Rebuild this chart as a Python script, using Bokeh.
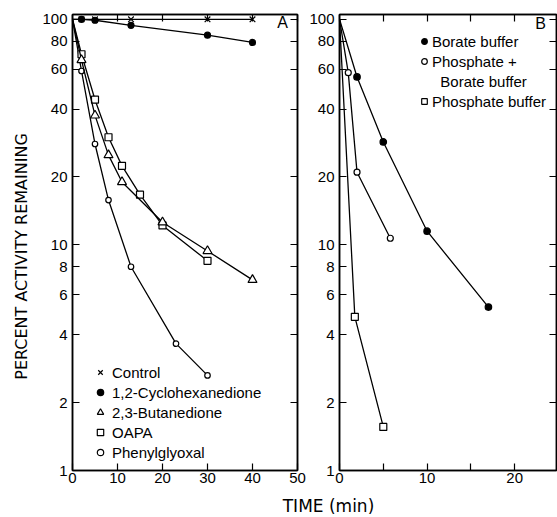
import math
from bokeh.plotting import figure
from bokeh.layouts import column, row
from bokeh.models import (FixedTicker, LogAxis, LinearAxis, NumeralTickFormatter,
                          Legend, LegendItem, Label)
from bokeh.embed import file_html
from bokeh.resources import INLINE

FONT = "Liberation Sans"

# ---------------- Panel A data (time in min, % activity remaining) -------------
ctrl_t = [0, 2, 5, 13, 30, 40]
ctrl_v = [100, 100, 100, 100, 100, 100]
chd_t = [0, 2, 5, 13, 30, 40]
chd_v = [100, 100, 99, 94, 85, 79]
btd_t = [0, 2, 5, 8, 11, 20, 30, 40]
btd_v = [100, 66, 37.5, 25, 19, 12.6, 9.4, 7.0]
oapa_t = [0, 2, 5, 8, 11, 15, 20, 30]
oapa_v = [100, 70, 44, 30, 22.4, 16.7, 12.2, 8.5]
pgo_t = [0, 2, 5, 8, 13, 23, 30]
pgo_v = [100, 59, 28, 15.8, 8.0, 3.65, 2.64]

# ---------------- Panel B data ------------------------------------------------
bor_t = [0, 2, 5, 10, 17]
bor_v = [100, 55.5, 28.6, 11.5, 5.3]
pb_t = [0, 1, 2, 5.8]
pb_v = [100, 58, 21, 10.7]
pho_t = [0, 1.75, 5]
pho_v = [100, 4.8, 1.56]

y_ticks = [1, 2, 4, 6, 8, 10, 20, 40, 60, 80, 100]
a_x_ticks = [0, 10, 20, 30, 40, 50]
b_x_ticks = [0, 10, 20]
b_x_minor = [5, 15]

LBL = "15px"
ROW_H = 490


def tick_style(ax, labels=True):
    ax.axis_line_color = "black"
    ax.axis_line_width = 1.5
    ax.major_tick_line_color = "black"
    ax.major_tick_line_width = 1.2
    ax.major_tick_in = 7
    ax.major_tick_out = 0
    ax.minor_tick_line_color = "black"
    ax.minor_tick_line_width = 1.2
    ax.minor_tick_in = 7
    ax.minor_tick_out = 0
    if labels:
        ax.major_label_text_font = FONT
        ax.major_label_text_font_size = LBL
        ax.major_label_text_color = "black"
    else:
        ax.major_label_text_color = None
        ax.major_label_text_font_size = "1px"
        ax.major_label_standoff = 0


def make_fig(width, xr, mb_left, mb_right, xticks, xminor):
    p = figure(width=width, height=ROW_H, x_range=xr, y_range=(1, 105),
               y_axis_type="log", output_backend="svg", toolbar_location=None,
               title=None, min_border_left=mb_left, min_border_right=mb_right,
               min_border_top=14, min_border_bottom=20)
    p.xgrid.visible = False
    p.ygrid.visible = False
    p.outline_line_color = "black"
    p.outline_line_width = 1.5
    p.background_fill_color = "white"
    p.border_fill_color = "white"

    xa = p.xaxis[0]
    xa.ticker = FixedTicker(ticks=xticks, minor_ticks=xminor)
    tick_style(xa)
    xa.major_label_standoff = 2

    ya = p.yaxis[0]
    ya.ticker = FixedTicker(ticks=y_ticks)
    ya.formatter = NumeralTickFormatter(format="0")
    tick_style(ya)
    ya.major_label_standoff = 5

    top = LinearAxis(ticker=FixedTicker(ticks=xticks, minor_ticks=xminor))
    tick_style(top, labels=False)
    p.add_layout(top, "above")
    right = LogAxis(ticker=FixedTicker(ticks=y_ticks))
    tick_style(right, labels=False)
    p.add_layout(right, "right")
    return p


def series(p, t, v, marker, size, fill):
    p.line(t, v, line_color="black", line_width=1.3)
    return p.scatter(t[1:], v[1:], marker=marker, size=size, line_color="black",
                     line_width=1.2, fill_color=fill)


def blank_fig(width, height):
    p = figure(width=width, height=height, x_range=(0, width), y_range=(0, height),
               output_backend="svg", toolbar_location=None, title=None,
               x_axis_location=None, y_axis_location=None,
               min_border_left=0, min_border_right=0, min_border_top=0,
               min_border_bottom=0)
    p.grid.visible = False
    p.outline_line_color = None
    p.background_fill_color = "white"
    p.border_fill_color = "white"
    return p


def make_legend(items, loc, gw):
    return Legend(items=items, location=loc, glyph_width=gw, glyph_height=18,
                  label_height=18, spacing=2, padding=0, margin=0,
                  label_standoff=4 if gw == 16 else 1,
                  label_text_font=FONT, label_text_font_size=LBL,
                  label_text_color="black",
                  background_fill_alpha=0, border_line_alpha=0)


# ---------------- y-axis title strip ----------------
pY = blank_fig(32, ROW_H)
pY.add_layout(Label(x=21, y=ROW_H - 260, text="PERCENT ACTIVITY REMAINING",
                    angle=math.pi / 2, text_align="center", text_baseline="middle",
                    text_font="DejaVu Sans", text_font_size="16px",
                    text_color="black"))

# ---------------- Panel A ----------------
pA = make_fig(274, (0, 50), 40, 9, a_x_ticks, [])
s_pgo = series(pA, pgo_t, pgo_v, "circle", 5.5, "white")
s_oapa = series(pA, oapa_t, oapa_v, "square", 7, "white")
s_btd = series(pA, btd_t, btd_v, "triangle", 9, "white")
s_chd = series(pA, chd_t, chd_v, "circle", 6, "black")
s_ctrl = series(pA, ctrl_t, ctrl_v, "x", 8, None)

legA = make_legend([LegendItem(label="Control", renderers=[s_ctrl]),
                    LegendItem(label="1,2-Cyclohexanedione", renderers=[s_chd]),
                    LegendItem(label="2,3-Butanedione", renderers=[s_btd]),
                    LegendItem(label="OAPA", renderers=[s_oapa]),
                    LegendItem(label="Phenylglyoxal", renderers=[s_pgo])],
                   (20, 9), 16)
pA.add_layout(legA)
pA.add_layout(Label(x=210, y=448, x_units="screen", y_units="screen", text="A",
                    text_align="center", text_baseline="middle",
                    text_font=FONT, text_font_size="16px", text_color="black"))

# ---------------- Panel B ----------------
pB = make_fig(251, (0, 24.77), 32, 1, b_x_ticks, b_x_minor)
s_pho = series(pB, pho_t, pho_v, "square", 7, "white")
s_pb = series(pB, pb_t, pb_v, "circle", 6, "white")
s_bor = series(pB, bor_t, bor_v, "circle", 6.5, "black")
s_blank = pB.scatter(x=[], y=[], marker="circle", size=1, alpha=0)

legB = make_legend([LegendItem(label="Borate buffer", renderers=[s_bor]),
                    LegendItem(label="Phosphate +", renderers=[s_pb]),
                    LegendItem(label="\u00a0\u00a0Borate buffer", renderers=[s_blank]),
                    LegendItem(label="Phosphate buffer", renderers=[s_pho])],
                   (78, 360), 14)
pB.add_layout(legB)
pB.add_layout(Label(x=201, y=447, x_units="screen", y_units="screen", text="B",
                    text_align="center", text_baseline="middle",
                    text_font=FONT, text_font_size="16px", text_color="black"))

# ---------------- shared x-axis title ----------------
pL = blank_fig(557, 27)
pL.add_layout(Label(x=328, y=12, text="TIME (min)", text_align="center",
                    text_baseline="middle", text_font="DejaVu Sans",
                    text_font_size="17px", text_color="black"))

layout = column(row(pY, pA, pB), pL)
open("out.html", "w").write(file_html(layout, INLINE))
